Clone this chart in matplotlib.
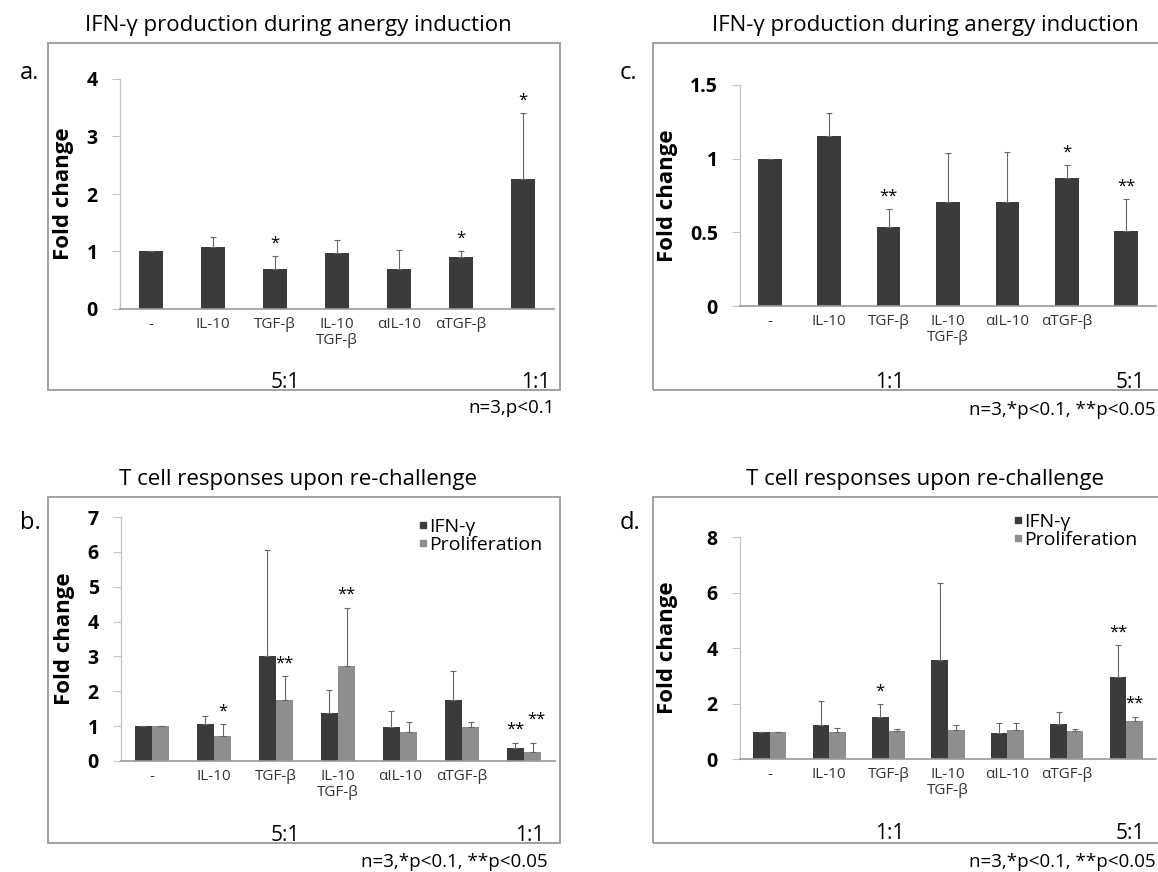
import matplotlib
matplotlib.use("Agg")
import matplotlib.pyplot as plt
from matplotlib.patches import Rectangle
from matplotlib.lines import Line2D
import numpy as np

plt.rcParams['font.family'] = ['Open Sans', 'DejaVu Sans']

W, H = 1158, 872

categories = ['-', 'IL-10', 'TGF-β', 'IL-10\nTGF-β', 'αIL-10', 'αTGF-β', '']

# panel a: IFN-g during anergy induction (5:1 / 1:1)
a_values = [1.0, 1.08, 0.70, 0.98, 0.70, 0.90, 2.26]
a_err = [0.0, 0.18, 0.22, 0.22, 0.33, 0.10, 1.14]
a_stars = ['', '', '*', '', '', '*', '*']

# panel c: IFN-g during anergy induction (1:1 / 5:1)
c_values = [1.0, 1.156, 0.533, 0.707, 0.707, 0.872, 0.51]
c_err = [0.0, 0.155, 0.125, 0.33, 0.34, 0.083, 0.217]
c_stars = ['', '', '**', '', '', '*', '**']

# panel b: re-challenge
b_ifn = [0.99, 1.07, 3.0, 1.39, 0.98, 1.76, 0.37]
b_ifn_err = [0.0, 0.22, 3.05, 0.66, 0.45, 0.82, 0.15]
b_ifn_stars = ['', '', '', '', '', '', '**']
b_prol = [1.0, 0.72, 1.76, 2.73, 0.84, 0.98, 0.26]
b_prol_err = [0.0, 0.34, 0.67, 1.66, 0.27, 0.15, 0.27]
b_prol_stars = ['', '*', '**', '**', '', '', '**']

# panel d: re-challenge
d_ifn = [0.96, 1.24, 1.51, 3.58, 0.92, 1.26, 2.95]
d_ifn_err = [0.0, 0.84, 0.48, 2.75, 0.37, 0.42, 1.15]
d_ifn_stars = ['', '', '*', '', '', '', '**']
d_prol = [0.97, 0.97, 1.0, 1.05, 1.05, 1.02, 1.38]
d_prol_err = [0.0, 0.16, 0.08, 0.19, 0.24, 0.06, 0.15]
d_prol_stars = ['', '', '', '', '', '', '**']

series_names = ['IFN-γ', 'Proliferation']

DARK = '#3b3b3b'
LIGHT = '#8e8e8e'


def fx(x):
    return x / W


def fy(y):
    return 1 - y / H


def make_axes(fig, left, right, top, bottom):
    return fig.add_axes([fx(left), fy(bottom), fx(right) - fx(left), fy(top) - fy(bottom)])


def panel_frame(fig, box, letter, title, title_x, title_y, letter_xy):
    x0, x1, y0, y1 = box
    fig.patches.append(Rectangle((fx(x0), fy(y1)), fx(x1) - fx(x0), fy(y0) - fy(y1),
                                 transform=fig.transFigure, fill=False,
                                 edgecolor='#9a9a9a', linewidth=1.3))
    fig.text(fx(title_x), fy(title_y), title, ha='center', va='center', fontsize=16)
    fig.text(fx(letter_xy[0]), fy(letter_xy[1]), letter, ha='left', va='center', fontsize=17)


def style_axes(ax, ymax, yticks, ylabels, label_x):
    ax.set_xlim(-0.5, 6.5)
    ax.set_ylim(0, ymax)
    ax.set_facecolor('none')
    for s in ('top', 'right'):
        ax.spines[s].set_visible(False)
    ax.spines['left'].set_color('#c4c4c4')
    ax.spines['left'].set_linewidth(0.9)
    ax.spines['bottom'].set_color('#9a9a9a')
    ax.spines['bottom'].set_linewidth(1.2)
    ax.set_yticks(yticks)
    ax.set_yticklabels(ylabels, fontsize=14, fontweight='bold')
    ax.tick_params(axis='y', length=6, width=0.8, color='#c4c4c4', pad=10)
    ax.set_xticks(np.arange(len(categories)))
    ax.set_xticklabels(categories, fontsize=11, color='#333333', linespacing=1.1)
    ax.tick_params(axis='x', length=0, pad=6)
    ax.set_ylabel('Fold change', fontsize=16, fontweight='bold', va='center')
    ax.yaxis.set_label_coords(label_x, 0.5)


def bars(ax, pos, vals, errs, stars, width, color, ymax, extra=None):
    ax.bar(pos, vals, width=width, color=color, edgecolor='none', zorder=2)
    lower = np.zeros(len(errs))
    ax.errorbar(pos, vals, yerr=[lower, errs], fmt='none', ecolor='#666666',
                elinewidth=0.8, capsize=2, capthick=0.8, zorder=3)
    for i, (p, v, e, s) in enumerate(zip(pos, vals, errs, stars)):
        if s:
            off = ymax * 0.02 + (extra.get(i, 0) if extra else 0)
            ax.text(p + (0.06 if extra and i in extra else 0), v + e + off, s,
                    ha='center', va='bottom', fontsize=12)


def legend(fig, x, y):
    handles = [Line2D([], [], marker='s', ls='none', color=DARK, markersize=4),
               Line2D([], [], marker='s', ls='none', color=LIGHT, markersize=4)]
    fig.legend(handles, series_names, loc='upper left',
               bbox_to_anchor=(fx(x), fy(y)), frameon=False, fontsize=14,
               handlelength=0.5, handletextpad=0.1, labelspacing=0.0, borderpad=0)


fig = plt.figure(figsize=(W / 100, H / 100), dpi=100, facecolor='white')

x = np.arange(len(categories))
bw = 0.28

# ---- a ----
panel_frame(fig, (48, 560, 43, 390), 'a.', 'IFN-γ production during anergy induction', 298, 25, (20, 73))
ax = make_axes(fig, 120, 554, 79, 309)
style_axes(ax, 4, [0, 1, 2, 3, 4], ['0', '1', '2', '3', '4'], -0.13)
bars(ax, x, a_values, a_err, a_stars, 0.39, DARK, 4)
fig.text(fx(285), fy(382), '5:1', ha='center', va='center', fontsize=15)
fig.text(fx(536), fy(382), '1:1', ha='center', va='center', fontsize=15)
fig.text(fx(555), fy(408), 'n=3,p<0.1', ha='right', va='center', fontsize=13.5)

# ---- c ----
panel_frame(fig, (653, 1162, 43, 390), 'c.', 'IFN-γ production during anergy induction', 925, 25, (620, 73))
ax = make_axes(fig, 740, 1156, 85, 306)
style_axes(ax, 1.5, [0, 0.5, 1, 1.5], ['0', '0.5', '1', '1.5'], -0.175)
bars(ax, x, c_values, c_err, c_stars, 0.40, DARK, 1.5)
fig.text(fx(890), fy(382), '1:1', ha='center', va='center', fontsize=15)
fig.text(fx(1130), fy(382), '5:1', ha='center', va='center', fontsize=15)
fig.text(fx(1156), fy(410), 'n=3,*p<0.1, **p<0.05', ha='right', va='center', fontsize=13.5)

# ---- b ----
panel_frame(fig, (48, 560, 497, 843), 'b.', 'T cell responses upon re-challenge', 298, 479, (20, 523))
ax = make_axes(fig, 121, 555, 517, 761)
style_axes(ax, 7, list(range(8)), [str(i) for i in range(8)], -0.13)
bars(ax, x - bw / 2, b_ifn, b_ifn_err, b_ifn_stars, bw, DARK, 7)
bars(ax, x + bw / 2, b_prol, b_prol_err, b_prol_stars, bw, LIGHT, 7, extra={6: 0.3})
legend(fig, 408, 508)
fig.text(fx(285), fy(835), '5:1', ha='center', va='center', fontsize=15)
fig.text(fx(530), fy(835), '1:1', ha='center', va='center', fontsize=15)
fig.text(fx(548), fy(862), 'n=3,*p<0.1, **p<0.05', ha='right', va='center', fontsize=13.5)

# ---- d ----
panel_frame(fig, (653, 1162, 497, 843), 'd.', 'T cell responses upon re-challenge', 925, 479, (620, 523))
ax = make_axes(fig, 740, 1156, 537, 759)
style_axes(ax, 8, [0, 2, 4, 6, 8], ['0', '2', '4', '6', '8'], -0.175)
bars(ax, x - bw / 2, d_ifn, d_ifn_err, d_ifn_stars, bw, DARK, 8)
bars(ax, x + bw / 2, d_prol, d_prol_err, d_prol_stars, bw, LIGHT, 8)
legend(fig, 1003, 503)
fig.text(fx(890), fy(833), '1:1', ha='center', va='center', fontsize=15)
fig.text(fx(1130), fy(833), '5:1', ha='center', va='center', fontsize=15)
fig.text(fx(1156), fy(862), 'n=3,*p<0.1, **p<0.05', ha='right', va='center', fontsize=13.5)

fig.savefig('out.png', dpi=100, facecolor='white')
